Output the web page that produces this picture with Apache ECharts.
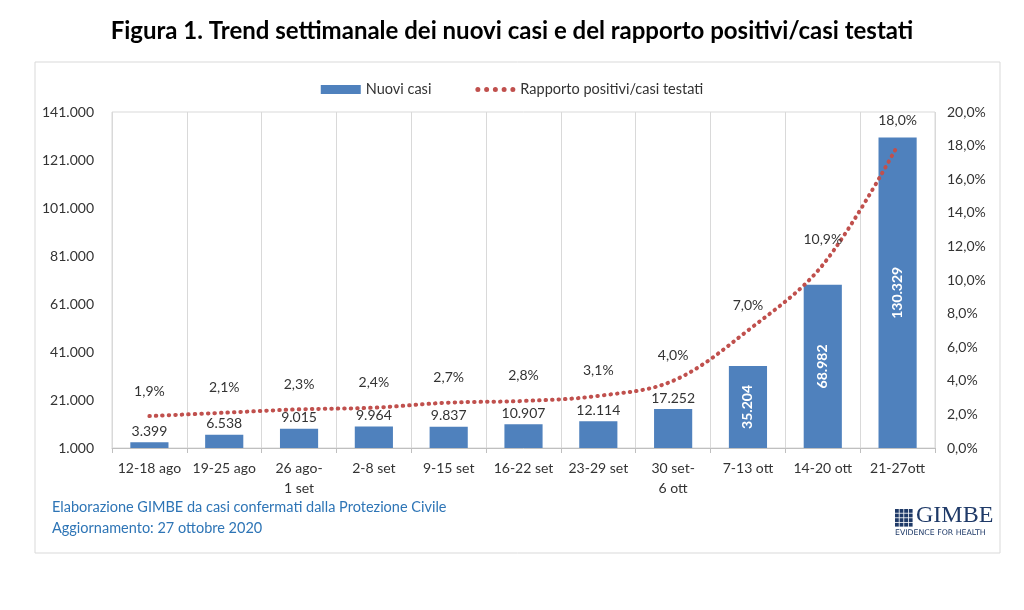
<!DOCTYPE html>
<html><head><meta charset="utf-8">
<script src="https://cdn.jsdelivr.net/npm/echarts@6/dist/echarts.min.js"></script>
<style>html,body{margin:0;padding:0;background:#fff}#c{width:1024px;height:610px}</style>
</head><body><div id="c"></div>
<script>
const categories = ['12-18 ago','19-25 ago','26 ago-\n1 set','2-8 set','9-15 set','16-22 set','23-29 set','30 set-\n6 ott','7-13 ott','14-20 ott','21-27ott'];
const nuoviCasi = [3399,6538,9015,9964,9837,10907,12114,17252,35204,68982,130329];
const rapporto = [1.9,2.1,2.3,2.4,2.7,2.8,3.1,4.0,7.0,10.9,18.0];
const titleText = 'Figura 1. Trend settimanale dei nuovi casi e del rapporto positivi/casi testati';
const sourceText = 'Elaborazione GIMBE da casi confermati dalla Protezione Civile';
const updateText = 'Aggiornamento: 27 ottobre 2020';

const fmtInt = v => String(Math.round(v)).replace(/\B(?=(\d{3})+(?!\d))/g, '.');
const fmtPct = v => v.toFixed(1).replace('.', ',') + '%';
const FONT = 'Lato, "Open Sans", sans-serif';
const TXT = '#333';

const chart = echarts.init(document.getElementById('c'));
const logoSquares = [];
for (let r = 0; r < 4; r++) for (let c = 0; c < 4; c++) {
  logoSquares.push({type:'rect', shape:{x:895 + c*4.6, y:509 + r*4.6, width:3.8, height:3.8}, style:{fill:'#1f3a68'}});
}
const dotsIcon = 'path://M0,2a2,2 0 1,0 4,0a2,2 0 1,0 -4,0zM7,2a2,2 0 1,0 4,0a2,2 0 1,0 -4,0zM14,2a2,2 0 1,0 4,0a2,2 0 1,0 -4,0zM21,2a2,2 0 1,0 4,0a2,2 0 1,0 -4,0zM28,2a2,2 0 1,0 4,0a2,2 0 1,0 -4,0z';
chart.setOption({
  animation:false,
  textStyle:{fontFamily:FONT},
  title:{text:titleText, left:'center', top:14, textStyle:{fontFamily:FONT, fontSize:24, fontWeight:'bold', color:'#000'}},
  legend:{top:77, left:'center', itemGap:44, itemWidth:40, itemHeight:9, textStyle:{fontSize:14.5, color:TXT, fontFamily:FONT},
    data:[{name:'Nuovi casi', icon:'rect'}, {name:'Rapporto positivi/casi testati', icon:dotsIcon, itemWidth:28, itemHeight:4}]},
  grid:{left:112, right:89, top:112, bottom:162, show:true, borderColor:'#d9d9d9', borderWidth:1},
  xAxis:{type:'category', data:categories,
    axisLine:{lineStyle:{color:'#bfbfbf'}}, axisTick:{show:true, length:5, lineStyle:{color:'#bfbfbf'}},
    axisLabel:{fontSize:14, color:TXT, fontFamily:FONT, margin:10, lineHeight:20, interval:0},
    splitLine:{show:true, lineStyle:{color:'#d9d9d9'}}},
  yAxis:[
    {type:'value', min:1000, max:141000, interval:20000, splitLine:{show:false},
     axisLine:{show:false}, axisTick:{show:false},
     axisLabel:{fontSize:14, color:TXT, fontFamily:FONT, margin:18, formatter:fmtInt}},
    {type:'value', min:0, max:20, interval:2, splitLine:{show:false},
     axisLine:{show:false}, axisTick:{show:false},
     axisLabel:{fontSize:14, color:TXT, fontFamily:FONT, margin:12, formatter:fmtPct}}
  ],
  series:[
    {name:'Nuovi casi', type:'bar', data:nuoviCasi.map((v,i)=>({value:v,
        label: v > 30000 ? {position:'inside', rotate:90, color:'#fff', fontWeight:'bold'} : {position:'top'}})),
     barWidth:'51%', itemStyle:{color:'#4f81bd'},
     label:{show:true, fontSize:14, color:TXT, fontFamily:FONT, distance:4, formatter:p=>fmtInt(p.value)}},
    {name:'Rapporto positivi/casi testati', type:'line', yAxisIndex:1, data:rapporto, smooth:0.35,
     symbol:'circle', symbolSize:0, showSymbol:true,
     lineStyle:{color:'#c0504d', width:4, type:[0.5,6], cap:'round'},
     itemStyle:{color:'#c0504d'},
     label:{show:true, position:'top', distance:18, fontSize:14, color:TXT, fontFamily:FONT, formatter:p=>fmtPct(p.value)}}
  ],
  graphic:[
    {type:'rect', shape:{x:35, y:62, width:965, height:491}, style:{fill:null, stroke:'#d9d9d9', lineWidth:1}, z:-1},
    {type:'text', left:52, top:500, style:{text:sourceText, fontSize:14.5, fill:'#2e75b6', fontFamily:FONT}},
    {type:'text', left:52, top:521, style:{text:updateText, fontSize:14.5, fill:'#2e75b6', fontFamily:FONT}},
    ...logoSquares,
    {type:'text', left:916, top:504, style:{text:'GIMBE', fontSize:24, fill:'#1f3a68', fontFamily:'"Liberation Serif", serif'}},
    {type:'text', left:895, top:529, style:{text:'EVIDENCE FOR HEALTH', fontSize:7.8, fill:'#1f3a68', fontFamily:'"DejaVu Sans", sans-serif'}}
  ]
});
</script></body></html>
